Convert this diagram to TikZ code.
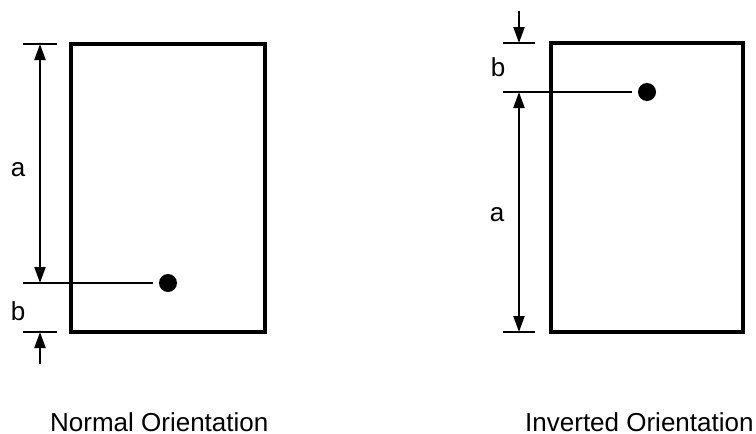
\documentclass[tikz,border=0pt]{standalone}
\usepackage{fontspec}
\setmainfont{Liberation Sans}
\usetikzlibrary{arrows.meta}
\begin{document}
\begin{tikzpicture}[x=1pt,y=-1pt,
  box/.style={draw, line width=3.5pt, inner sep=0pt, outer sep=0pt},
  dimone/.style={line width=2.2pt, -{Triangle[length=16pt,width=11pt]}},
  dimtwo/.style={line width=2.2pt, {Triangle[length=16pt,width=11pt]}-{Triangle[length=16pt,width=11pt]}},
  tickline/.style={line width=2pt},
  dot/.style={circle, fill, inner sep=0pt, minimum size=18pt},
  lbl/.style={font=\fontsize{26}{30}\selectfont, inner sep=0pt},
  captxt/.style={font=\fontsize{26}{30}\selectfont, inner sep=0pt, anchor=base west}]
\useasboundingbox (0,0) rectangle (756,434);

% ---------- Normal orientation ----------
\node[box, minimum width=194pt, minimum height=288pt] (rectL) at (168,188) {};
\node[dot] (dotL) at (168,283) {};
\coordinate (topL1) at (23,44);   \coordinate (topL2) at (57,44);
\coordinate (botL1) at (23,332);  \coordinate (botL2) at (57,332);
\coordinate (lineL) at (23,283);  \coordinate (lineLe) at (153,283);
\coordinate (aLt) at (40,44);     \coordinate (aLb) at (40,283);
\coordinate (bLs) at (40,364);    \coordinate (bLe) at (40,332);
\draw[tickline] (topL1) -- (topL2);
\draw[tickline] (botL1) -- (botL2);
\draw[tickline] (lineL) -- (lineLe);
\draw[dimtwo] (aLt) -- (aLb);
\draw[dimone] (bLs) -- (bLe);
\node[lbl] (aL) at (18,170) {a};
\node[lbl] (bL) at (18,311) {b};
\node[captxt] (capL) at (50,431) {Normal Orientation};

% ---------- Inverted orientation ----------
\node[box, minimum width=192pt, minimum height=289pt] (rectR) at (647,187.5) {};
\node[dot] (dotR) at (647,92) {};
\coordinate (topR1) at (503,43);  \coordinate (topR2) at (535,43);
\coordinate (botR1) at (503,332); \coordinate (botR2) at (535,332);
\coordinate (lineR) at (503,92);  \coordinate (lineRe) at (632,92);
\coordinate (bRs) at (519,11);    \coordinate (bRe) at (519,43);
\coordinate (aRt) at (519,92);    \coordinate (aRb) at (519,332);
\draw[tickline] (topR1) -- (topR2);
\draw[tickline] (botR1) -- (botR2);
\draw[tickline] (lineR) -- (lineRe);
\draw[dimone] (bRs) -- (bRe);
\draw[dimtwo] (aRt) -- (aRb);
\node[lbl] (bR) at (498,67) {b};
\node[lbl] (aR) at (497,215) {a};
\node[captxt] (capR) at (525,431) {Inverted Orientation};
\end{tikzpicture}
\end{document}
